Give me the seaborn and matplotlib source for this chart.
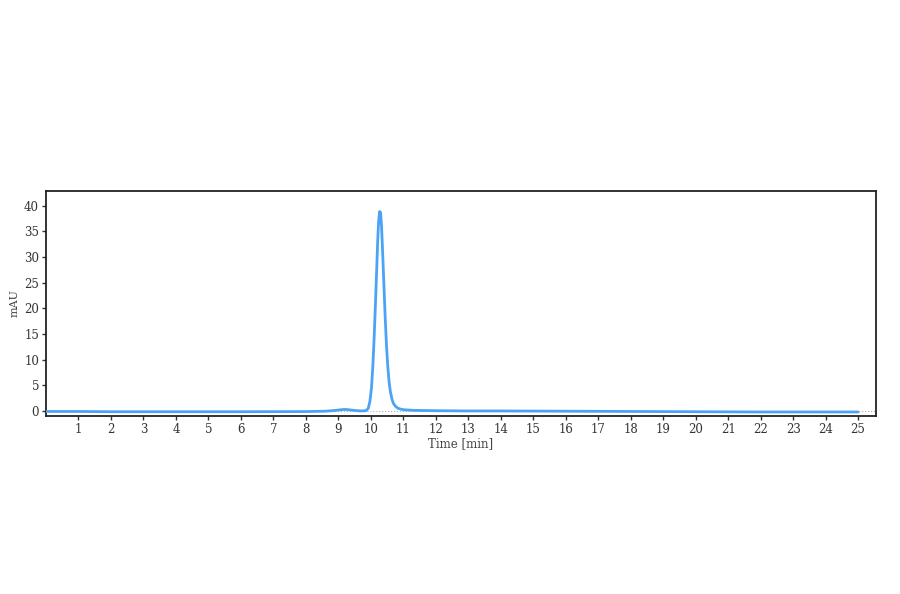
import numpy as np
import pandas as pd
import seaborn as sns
import matplotlib
matplotlib.use("Agg")
import matplotlib.pyplot as plt

# chromatogram trace (time in min, signal in mAU)
time_min = [0.0, 1.0, 2.0, 4.0, 6.0, 8.0, 8.6, 8.9, 9.1, 9.2, 9.3, 9.5, 9.7, 9.85,
            9.92, 9.97, 10.02, 10.06, 10.10, 10.14, 10.18, 10.21, 10.24, 10.27,
            10.30, 10.33, 10.36, 10.40, 10.44, 10.48, 10.52, 10.56, 10.60, 10.65,
            10.70, 10.76, 10.83, 10.92, 11.0, 11.3, 12.0, 13.0, 14.0, 16.0, 18.0,
            20.0, 22.0, 25.0]
signal_mau = [-0.1, -0.1, -0.15, -0.15, -0.15, -0.12, -0.05, 0.1, 0.25, 0.3, 0.25,
              0.1, 0.0, 0.05, 0.5, 1.8, 4.5, 8.5, 14.0, 20.5, 27.5, 33.0, 37.0, 38.9,
              38.7, 36.0, 31.5, 25.0, 18.5, 13.0, 8.8, 5.8, 3.8, 2.3, 1.4, 0.9, 0.55,
              0.35, 0.25, 0.12, 0.05, 0.0, 0.0, -0.05, -0.1, -0.15, -0.2, -0.2]

x_ticks = list(range(1, 26))
y_ticks = [0, 5, 10, 15, 20, 25, 30, 35, 40]

df = pd.DataFrame({"Time [min]": time_min, "mAU": signal_mau})

sns.set_style("ticks")
plt.rcParams["font.family"] = ["DejaVu Serif"]

fig = plt.figure(figsize=(9, 5.94), dpi=100)
ax = fig.add_axes([0.0511, 0.2997, 0.9222, 0.3788])

ax.axhline(0, color="#b0b0b0", lw=0.8, ls=":", zorder=1)
sns.lineplot(data=df, x="Time [min]", y="mAU", ax=ax, color="#4ba3f5", lw=2, zorder=3)

ax.set_xlim(0, 25.55)
ax.set_ylim(-0.98, 42.9)
ax.set_xticks(x_ticks)
ax.set_yticks(y_ticks)
ax.tick_params(axis="both", labelsize=8.5, length=3, width=1, colors="#333333", pad=2)
ax.set_xlabel("Time [min]", fontsize=8.5, color="#444444", labelpad=1)
ax.set_ylabel("mAU", fontsize=8, color="#444444", labelpad=3)
for side in ax.spines.values():
    side.set_linewidth(1.3)
    side.set_color("#222222")

fig.savefig("out.png", dpi=100, facecolor="white")
